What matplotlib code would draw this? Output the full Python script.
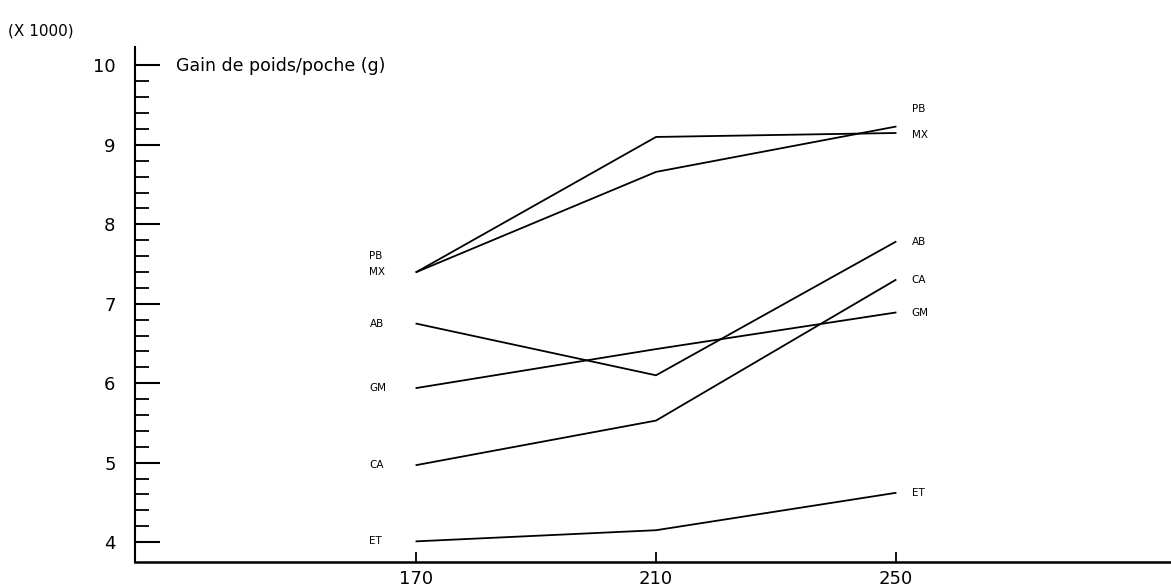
import matplotlib

matplotlib.use("Agg")

import matplotlib.pyplot as plt
import numpy as np

# densities (x) and weight gain per bag, in thousands of g
densities = [170, 210, 250]
pb = [7.40, 8.66, 9.23]
mx = [7.40, 9.10, 9.15]
ab = [6.75, 6.10, 7.78]
gm = [5.94, 6.43, 6.89]
ca = [4.97, 5.53, 7.30]
et = [4.01, 4.15, 4.62]

series_names = ["PB", "MX", "AB", "GM", "CA", "ET"]
series_values = [pb, mx, ab, gm, ca, et]

y_major = [4, 5, 6, 7, 8, 9, 10]

# label nudges in pixels (left end, right end)
label_shift = {
    "PB": (16, 18),
    "MX": (0, -2),
}

fig = plt.figure(figsize=(11.71, 5.87), dpi=100)
ax = fig.add_axes([0.1153, 0.0426, 0.8847, 0.877])

for name, vals in zip(series_names, series_values):
    ax.plot(densities, vals, color="black", linewidth=1.3)
    dl, dr = label_shift.get(name, (0, 0))
    ax.annotate(name, (densities[0], vals[0]), xytext=(-47, dl),
                textcoords="offset pixels", ha="left", va="center",
                fontsize=7.5)
    ax.annotate(name, (densities[-1], vals[-1]), xytext=(16, dr),
                textcoords="offset pixels", ha="left", va="center",
                fontsize=7.5)

ax.set_xlim(123, 296)
ax.set_ylim(3.75, 10.23)
ax.set_xticks(densities)
ax.set_yticks(y_major)
minor = [v for v in np.arange(4.2, 10.0, 0.2) if abs(v - round(v)) > 0.05]
ax.set_yticks(minor, minor=True)

for side in ["top", "right"]:
    ax.spines[side].set_visible(False)
ax.spines["left"].set_linewidth(1.5)
ax.spines["bottom"].set_linewidth(1.8)

ax.tick_params(axis="y", which="major", direction="in", length=18,
               width=1.5, pad=14, labelsize=13)
ax.tick_params(axis="y", which="minor", direction="in", length=10, width=1.3)
ax.tick_params(axis="x", direction="in", length=7, width=1.3, pad=6,
               labelsize=13)

ax.text(0.04, 0.98, "Gain de poids/poche (g)", transform=ax.transAxes,
        fontsize=12.5, ha="left", va="top")
fig.text(0.007, 0.935, "(X 1000)", fontsize=11, ha="left", va="bottom")

fig.savefig("out.png", dpi=100)
